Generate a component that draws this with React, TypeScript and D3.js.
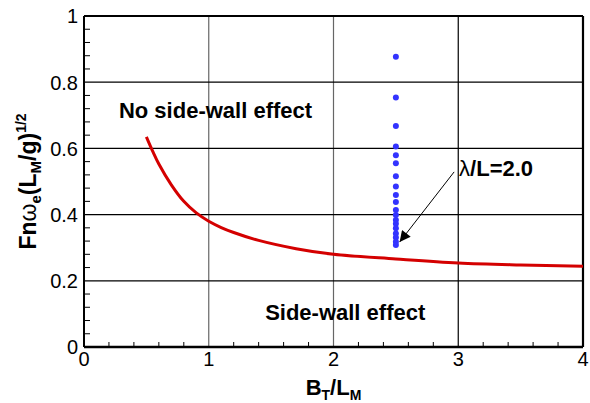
import React from "react";
import * as d3 from "d3";

const curveX = [0.5, 0.55, 0.6, 0.7, 0.8, 0.9, 1.0, 1.1, 1.2, 1.4, 1.7, 2.0, 2.5, 3.0, 3.5, 4.0];
const curveY = [0.635, 0.592, 0.553, 0.49, 0.44, 0.405, 0.38, 0.361, 0.346, 0.322, 0.297, 0.28, 0.266, 0.254, 0.248, 0.244];
const dotX = 2.5;
const dotY = [0.877, 0.754, 0.668, 0.606, 0.579, 0.555, 0.516, 0.485, 0.459, 0.438, 0.414, 0.399, 0.384, 0.372, 0.359, 0.343, 0.331, 0.318, 0.308];
const xTicks = [0, 1, 2, 3, 4];
const yTicks = [0, 0.2, 0.4, 0.6, 0.8, 1];

const W = 590, H = 403;
const FONT = "'Liberation Sans', Arial, Helvetica, sans-serif";

export default function App() {
  const x = d3.scaleLinear().domain([0, 4]).range([84, 583]);
  const y = d3.scaleLinear().domain([0, 1]).range([347, 16]);
  const line = d3.line<number>().x((d, i) => x(curveX[i])).y((d) => y(d)).curve(d3.curveCatmullRom.alpha(0.5));
  const xMinor = d3.range(0, 4.0001, 0.2).filter((v) => Math.abs(v - Math.round(v)) > 1e-6);
  const yMinor = d3.range(0, 1.0001, 0.04).filter((v) => Math.abs(v / 0.2 - Math.round(v / 0.2)) > 1e-6);
  const fmt = (v: number) => (v === 0 || v === 1 ? String(v) : d3.format(".1f")(v));

  return (
    <svg width={W} height={H} style={{ position: "absolute", left: 0, top: 0, background: "#fff" }} fontFamily={FONT}>
      <defs>
        <marker id="ah" viewBox="0 0 10 10" refX="10" refY="5" markerWidth="20" markerHeight="11" markerUnits="userSpaceOnUse" orient="auto">
          <path d="M0,0 L10,5 L0,10 z" fill="#000" />
        </marker>
      </defs>
      {/* grid */}
      {xTicks.slice(1, -1).map((t) => (
        <line key={"gx" + t} x1={x(t)} x2={x(t)} y1={y(0)} y2={y(1)} stroke={t < 3 ? "#666" : "#000"} strokeWidth={1.2} />
      ))}
      {yTicks.slice(1, -1).map((t) => (
        <line key={"gy" + t} x1={x(0)} x2={x(4)} y1={y(t)} y2={y(t)} stroke="#000" strokeWidth={1.2} />
      ))}
      {/* minor ticks */}
      {xMinor.map((t) => (
        <line key={"mx" + t} x1={x(t)} x2={x(t)} y1={y(0)} y2={y(0) - 5} stroke="#000" strokeWidth={1} />
      ))}
      {yMinor.map((t) => (
        <line key={"my" + t} x1={x(0)} x2={x(0) + 6} y1={y(t)} y2={y(t)} stroke="#000" strokeWidth={1} />
      ))}
      {/* frame */}
      <line x1={x(0)} x2={x(4)} y1={y(1)} y2={y(1)} stroke="#000" strokeWidth={2} />
      <line x1={x(4)} x2={x(4)} y1={y(0)} y2={y(1)} stroke="#000" strokeWidth={2.2} />
      <line x1={x(0)} x2={x(4)} y1={y(0)} y2={y(0)} stroke="#000" strokeWidth={2.6} />
      <line x1={x(0)} x2={x(0)} y1={y(0)} y2={y(1)} stroke="#000" strokeWidth={2} />
      {/* tick labels */}
      {yTicks.map((t) => (
        <text key={"ly" + t} x={78} y={y(t) + 7.3} textAnchor="end" fontSize={20}>{fmt(t)}</text>
      ))}
      {xTicks.map((t) => (
        <text key={"lx" + t} x={x(t)} y={366} textAnchor="middle" fontSize={20}>{t}</text>
      ))}
      {/* curve */}
      <path d={line(curveY) || ""} fill="none" stroke="#d40000" strokeWidth={3} />
      {/* dots */}
      {dotY.map((v, i) => (
        <circle key={"d" + i} cx={x(dotX)} cy={y(v)} r={3} fill="#3333ff" />
      ))}
      {/* arrow */}
      <line x1={x(2.967)} y1={y(0.529)} x2={x(2.53)} y2={y(0.317)} stroke="#000" strokeWidth={1} markerEnd="url(#ah)" />
      {/* annotations */}
      <text x={x(0.28)} y={y(0.692)} fontSize={22} fontWeight="bold">No side-wall effect</text>
      <text x={x(1.452)} y={y(0.082)} fontSize={22} fontWeight="bold">Side-wall effect</text>
      <text x={x(3.007)} y={y(0.5175)} fontSize={22} fontWeight="bold">
        <tspan fontWeight="normal">λ</tspan>/L=2.0
      </text>
      {/* axis titles */}
      <text x={x(2)} y={395} textAnchor="middle" fontSize={22} fontWeight="bold">
        B<tspan fontSize={14} dy={5}>T</tspan><tspan dy={-5}>/L</tspan><tspan fontSize={14} dy={5}>M</tspan>
      </text>
      <text transform={`translate(36,${(y(0) + y(1)) / 2}) rotate(-90)`} textAnchor="middle" fontSize={23} fontWeight="bold">
        Fn<tspan fontWeight="normal">ω</tspan><tspan fontSize={15} dy={5}>e</tspan><tspan dy={-5}>(L</tspan><tspan fontSize={15} dy={5}>M</tspan><tspan dy={-5}>/g)</tspan><tspan fontSize={14} dy={-10}>1/2</tspan>
      </text>
    </svg>
  );
}
